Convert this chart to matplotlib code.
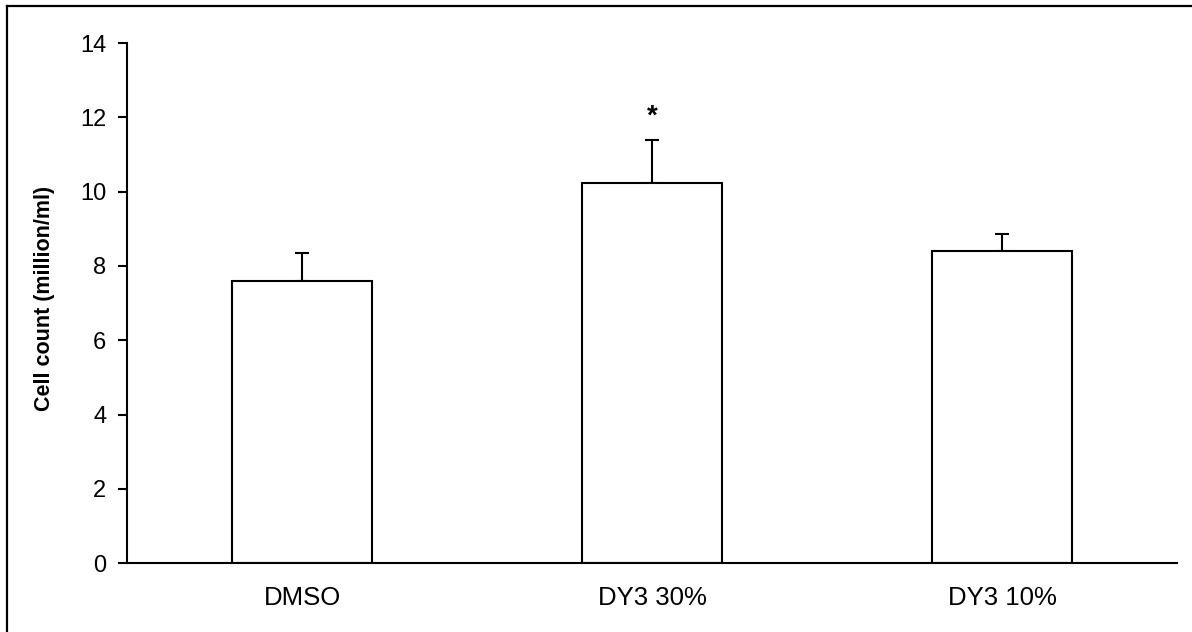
import matplotlib
matplotlib.use("Agg")
import matplotlib.pyplot as plt
from matplotlib.lines import Line2D

categories = ["DMSO", "DY3 30%", "DY3 10%"]
means = [7.60, 10.23, 8.40]
errors = [0.75, 1.15, 0.47]
significance = ["", "*", ""]
yticks = [0, 2, 4, 6, 8, 10, 12, 14]

plt.rcParams['font.family'] = ['Liberation Sans', 'DejaVu Sans']

fig = plt.figure(figsize=(11.92, 6.32), dpi=100)
ax = fig.add_axes([127/1192, 1 - 563.3/632, 1050/1192, 520.3/632])

x = list(range(len(categories)))
ax.bar(x, means, width=0.4, color='white', edgecolor='black', linewidth=1.5, zorder=2)
ax.errorbar(x, means, yerr=[[0]*len(errors), errors], fmt='none', ecolor='black',
            elinewidth=1.5, capsize=5, capthick=1.5, zorder=1)
for xi, m, e, s in zip(x, means, errors, significance):
    if s:
        ax.text(xi, m + e + 0.45, s, ha='center', va='baseline', fontsize=20, fontweight='bold')

ax.set_xlim(-0.5, 2.5)
ax.set_ylim(0, 14)
ax.set_yticks(yticks)
ax.set_yticklabels([str(t) for t in yticks])
ax.set_xticks(x)
ax.set_xticklabels(categories)
ax.tick_params(axis='y', direction='out', length=6.5, width=1.5, pad=8.5, labelsize=17)
ax.tick_params(axis='x', length=0, pad=16, labelsize=18.5)
ax.spines['top'].set_visible(False)
ax.spines['right'].set_visible(False)
ax.spines['left'].set_linewidth(1.5)
ax.spines['bottom'].set_linewidth(1.5)
ax.set_ylabel("Cell count (million/ml)", fontsize=15.5, fontweight='bold')
ax.yaxis.set_label_coords(-0.0686, 0.51)

# figure frame (left and top edges visible)
fig.add_artist(Line2D([7/1192, 1.0], [1 - 5.5/632, 1 - 5.5/632], transform=fig.transFigure,
                      color='black', linewidth=1.6))
fig.add_artist(Line2D([7/1192, 7/1192], [0.0, 1 - 5.5/632], transform=fig.transFigure,
                      color='black', linewidth=1.6))

fig.savefig("out.png", dpi=100, facecolor='white')
